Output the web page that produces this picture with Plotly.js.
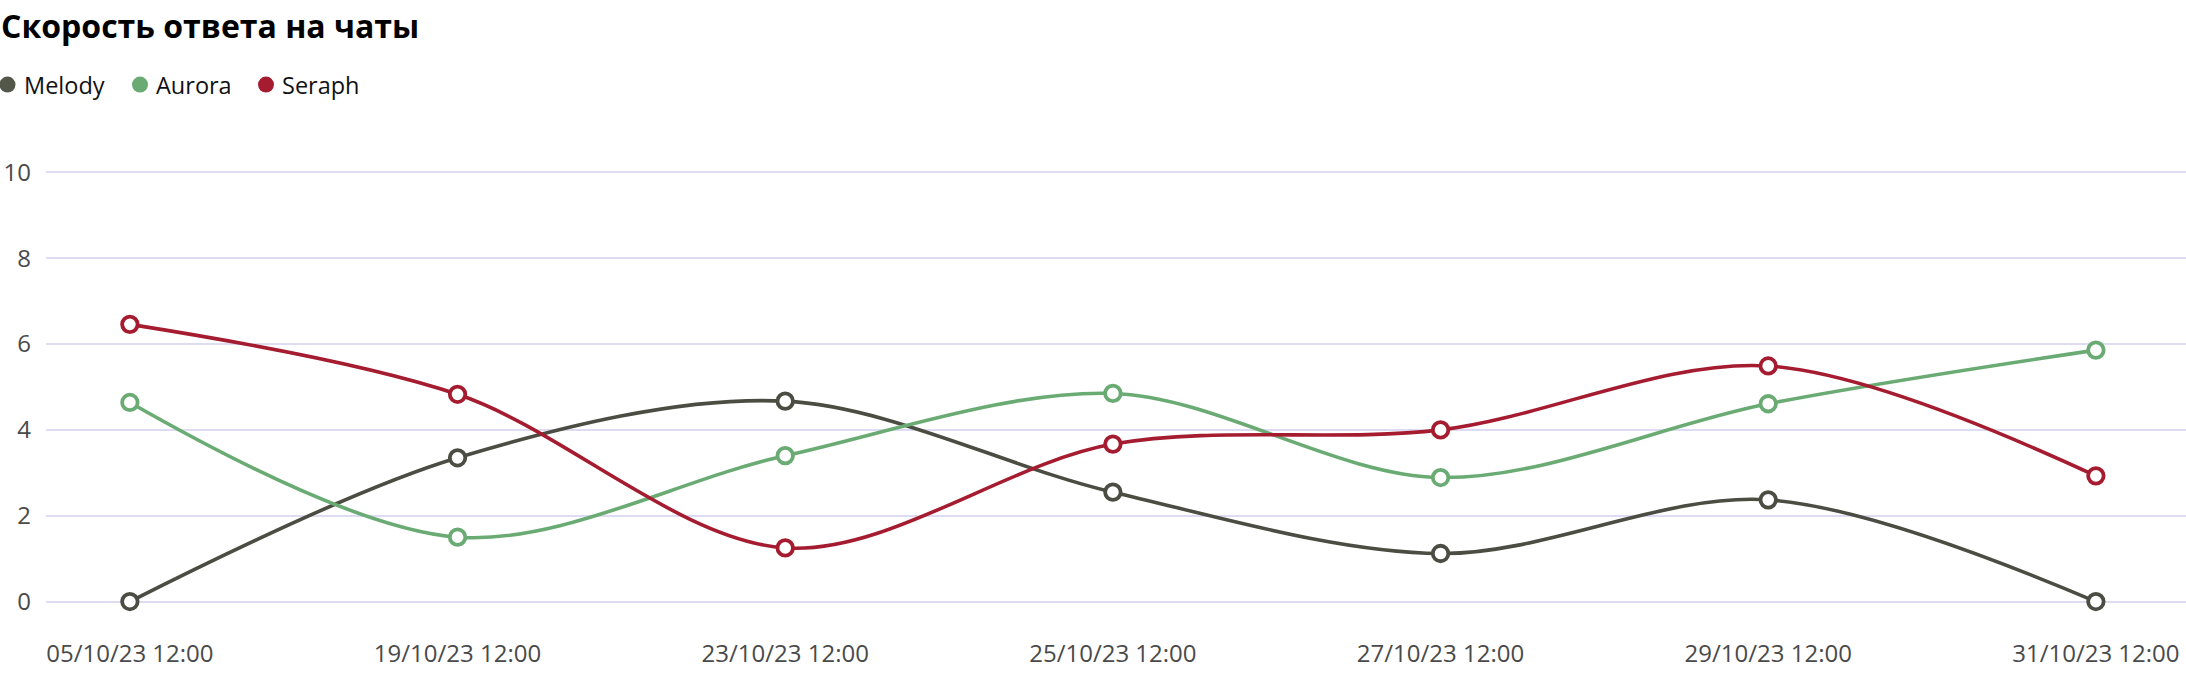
<!DOCTYPE html>
<html>
<head>
<meta charset="utf-8">
<script src="https://cdn.plot.ly/plotly-3.0.1.min.js"></script>
<style>html,body{margin:0;padding:0;background:#fff;}#chart{width:2186px;height:674px;}</style>
</head>
<body>
<div id="chart"></div>
<script>
const categories = ["05/10/23 12:00","19/10/23 12:00","23/10/23 12:00","25/10/23 12:00","27/10/23 12:00","29/10/23 12:00","31/10/23 12:00"];
const seriesNames = ["Melody","Aurora","Seraph"];
const melody = [0, 3.35, 4.67, 2.55, 1.12, 2.37, 0];
const aurora = [4.64, 1.50, 3.40, 4.85, 2.89, 4.61, 5.86];
const seraph = [6.46, 4.83, 1.25, 3.67, 4.00, 5.49, 2.93];
const yTicks = [0, 2, 4, 6, 8, 10];
const titleText = "Скорость ответа на чаты";

const colors = ["#4b4c42", "#6aab74", "#a51c30"];
const legendColors = ["#52574a", "#6aab74", "#a51c30"];
const allValues = [melody, aurora, seraph];
const font = "'Open Sans', sans-serif";

// plot area geometry (pixels)
const W = 2186, H = 674;
const M = {l: 46, r: 0, t: 150.5, b: 50.8};
const plotW = W - M.l - M.r, plotH = H - M.t - M.b;
const px2paperX = px => (px - M.l) / plotW;
const px2paperY = py => (H - M.b - py) / plotH;

const traces = allValues.map((vals, i) => ({
  type: "scatter", mode: "lines+markers", name: seriesNames[i],
  x: categories, y: vals, showlegend: false,
  line: {color: colors[i], width: 3.6, shape: "spline", smoothing: 0.95},
  marker: {size: 15.5, color: "#ffffff", line: {color: colors[i], width: 3.8}},
  cliponaxis: false, hoverinfo: "x+y+name"
}));

// legend (drawn as shapes + text annotations)
const legendMarkerX = [7.5, 140, 266];
const legendY = 84;
const shapes = [], annotations = [];
seriesNames.forEach((n, i) => {
  shapes.push({
    type: "circle", xref: "paper", yref: "paper", xsizemode: "pixel", ysizemode: "pixel",
    xanchor: px2paperX(legendMarkerX[i]), yanchor: px2paperY(legendY),
    x0: -8, x1: 8, y0: -8, y1: 8, fillcolor: legendColors[i], line: {width: 0}
  });
  annotations.push({
    text: n, xref: "paper", yref: "paper", x: px2paperX(legendMarkerX[i] + 14), y: px2paperY(legendY),
    xanchor: "left", yanchor: "middle", showarrow: false,
    font: {family: font, size: 23.5, color: "#111111"}
  });
});

const layout = {
  width: W, height: H,
  margin: M,
  paper_bgcolor: "#ffffff", plot_bgcolor: "#ffffff",
  font: {family: font, size: 24, color: "#4a4a4a"},
  title: {text: titleText, font: {family: font, size: 32, color: "#000000", weight: 700},
          x: 0.0005, xref: "container", xanchor: "left", y: 1 - 27/674, yref: "container", yanchor: "middle"},
  showlegend: false,
  shapes: shapes,
  annotations: annotations,
  xaxis: {type: "category", range: [-0.256, 6.275], showgrid: false, zeroline: false, showline: false, ticks: "",
          tickfont: {family: font, size: 24, color: "#4a4a4a"}, ticklabelstandoff: 14, fixedrange: true},
  yaxis: {range: [-0.5, 10.5], tickvals: yTicks, ticktext: yTicks.map(String), showgrid: true, gridcolor: "#dedcf2", gridwidth: 1.5,
          zeroline: false, showline: false, ticks: "", tickfont: {family: font, size: 24, color: "#4a4a4a"}, ticklabelstandoff: 14, fixedrange: true},
  hovermode: "closest"
};

Plotly.newPlot("chart", traces, layout, {displayModeBar: false, responsive: false});
</script>
</body>
</html>
